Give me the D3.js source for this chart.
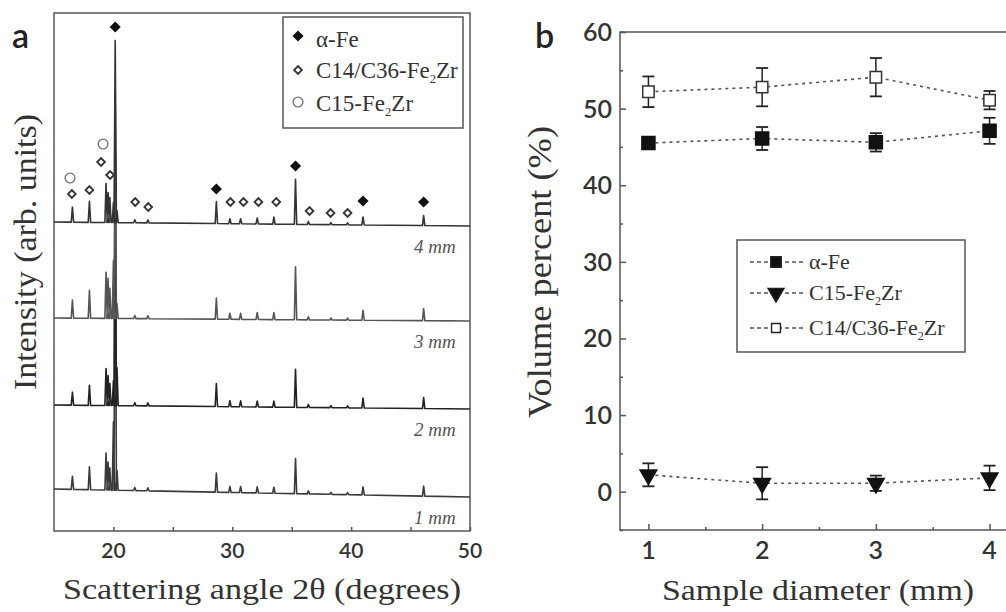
<!DOCTYPE html>
<html>
<head>
<meta charset="utf-8">
<script src="https://cdn.jsdelivr.net/npm/d3@7"></script>
<style>
  body { margin: 0; background: #fff; }
  svg { display: block; }
</style>
</head>
<body>
<script>
'use strict';

// ---- panel a: XRD patterns ----
// peak positions (2theta, degrees) shared by all samples
const peakAngles = [16.55, 17.98, 19.38, 19.55, 19.7, 20.0, 20.15, 20.3, 21.8, 22.9,
    28.66, 29.8, 30.7, 32.1, 33.5, 35.32, 36.4, 38.3, 39.7, 41.0, 46.1];
// peak heights above the baseline for each sample (arb. units)
const peaks4mm = [15, 21, 39, 30, 25, 20, 182, 12, 3, 3, 22, 5, 5, 6, 7, 45, 3, 2, 2, 8, 10];
const peaks3mm = [18, 28, 46, 40, 30, 58, 223, 15, 3, 3, 21, 6, 6, 7, 7, 53, 3, 2, 2, 10, 12];
const peaks2mm = [13, 20, 37, 30, 22, 25, 255, 38, 3, 3, 23, 6, 6, 6, 6, 38, 3, 2, 2, 10, 11];
const peaks1mm = [13, 23, 37, 28, 22, 68, 340, 20, 3, 3, 19, 6, 6, 6, 6, 35, 3, 2, 2, 8, 10];
// baseline level of each stacked pattern at the two ends of the scan
const base4mm = [[15, 309], [50, 305]];
const base3mm = [[15, 213], [50, 210]];
const base2mm = [[15, 126], [50, 122]];
const base1mm = [[15, 42], [50, 34]];
const sampleLabels = ["4 mm", "3 mm", "2 mm", "1 mm"];
const xTicksA = [20, 30, 40, 50];
const xMinorA = [25, 35, 45];

// phase markers [angle, intensity]
const markAlphaFe = [[20.15, 504], [28.66, 342], [35.32, 365], [41.0, 330], [46.1, 329]];
const markC14 = [[16.5, 337], [17.98, 341], [18.96, 369], [19.72, 356], [21.83, 329],
    [22.93, 324], [29.84, 329], [30.94, 329], [32.2, 329], [33.7, 329],
    [36.5, 320], [38.27, 318], [39.7, 318]];
const markC15 = [[16.35, 353], [19.13, 387]];

// ---- panel b: volume fractions ----
const diameters = [1, 2, 3, 4];
const alphaFe = [45.5, 46.1, 45.6, 47.1];
const alphaFeErr = [0.6, 1.5, 1.2, 1.7];
const c15 = [2.2, 1.1, 1.1, 1.8];
const c15Err = [1.5, 2.1, 1.0, 1.6];
const c14 = [52.2, 52.8, 54.1, 51.1];
const c14Err = [2.0, 2.5, 2.5, 1.2];
const yTicksB = [0, 10, 20, 30, 40, 50, 60];
const yMinorB = [-5, 5, 15, 25, 35, 45, 55];
const xMinorB = [1.5, 2.5, 3.5];

const serif = "'Liberation Serif', 'DejaVu Serif', serif";
const sans = "Lato, 'Open Sans', sans-serif";
const ink = "#333";
const frameColor = "#555";

const svg = d3.select("body").append("svg")
    .attr("width", 1006)
    .attr("height", 612);

// rotated squares for the diffraction phase markers
const fullDiamond = d3.symbol().type(d3.symbolSquare).size(62)();
const openDiamond = d3.symbol().type(d3.symbolSquare).size(30)();
const openCircle = d3.symbol().type(d3.symbolCircle).size(75)();

drawPanelA();
drawPanelB();

function drawPanelA() {
    const x = d3.scaleLinear().domain([15, 50]).range([54, 470]);
    const y = d3.scaleLinear().domain([0, 518]).range([531, 13]);
    const g = svg.append("g");

    // frame
    g.append("rect")
        .attr("x", x(15)).attr("y", y(518))
        .attr("width", x(50) - x(15)).attr("height", y(0) - y(518))
        .attr("fill", "none").attr("stroke", frameColor).attr("stroke-width", 1.5);

    // bottom ticks (inward)
    const axis = g.append("g")
        .attr("transform", "translate(0," + y(0) + ")")
        .call(d3.axisBottom(x).tickValues(xTicksA.concat(xMinorA)).tickSize(-4).tickFormat(""));
    axis.select(".domain").remove();
    axis.selectAll("line").attr("stroke", frameColor).attr("stroke-width", 1.5);

    g.selectAll(".xlabA")
        .data(xTicksA)
        .enter().append("text")
        .attr("x", d => x(d))
        .attr("y", 558)
        .attr("text-anchor", "middle")
        .attr("font-family", sans).attr("font-size", 21).attr("font-weight", 600)
        .attr("fill", ink)
        .text(d => d);

    // stacked patterns
    const traces = [
        { peaks: peaks1mm, base: base1mm, color: "#3a3a3a" },
        { peaks: peaks2mm, base: base2mm, color: "#222" },
        { peaks: peaks3mm, base: base3mm, color: "#555" },
        { peaks: peaks4mm, base: base4mm, color: "#333" }
    ];
    const line = d3.line().x(d => x(d[0])).y(d => y(d[1]));
    const w = 0.1;
    traces.forEach((t) => {
        const b = d3.scaleLinear().domain(t.base.map(d => d[0])).range(t.base.map(d => d[1]));
        const pts = [[15, b(15)]];
        peakAngles.forEach((a, i) => {
            pts.push([a - w, b(a - w)]);
            pts.push([a, b(a) + t.peaks[i]]);
            pts.push([a + w, b(a + w)]);
        });
        pts.push([50, b(50)]);
        g.append("path")
            .datum(pts)
            .attr("d", line)
            .attr("fill", "none")
            .attr("stroke", t.color)
            .attr("stroke-width", 1.6)
            .attr("stroke-linejoin", "round");
    });

    // sample labels
    const bases = [base4mm, base3mm, base2mm, base1mm];
    sampleLabels.forEach((s, i) => {
        g.append("text")
            .attr("x", x(48.8))
            .attr("y", y(bases[i][1][1]) + 27)
            .attr("text-anchor", "end")
            .attr("font-family", serif).attr("font-style", "italic").attr("font-size", 19)
            .attr("fill", "#555")
            .text(s);
    });

    // phase markers
    g.selectAll(".mFe")
        .data(markAlphaFe)
        .enter().append("path")
        .attr("transform", d => "translate(" + x(d[0]) + "," + y(d[1]) + ")rotate(45)")
        .attr("d", fullDiamond)
        .attr("fill", "#111");
    g.selectAll(".mC14")
        .data(markC14)
        .enter().append("path")
        .attr("transform", d => "translate(" + x(d[0]) + "," + y(d[1]) + ")rotate(45)")
        .attr("d", openDiamond)
        .attr("fill", "#fff").attr("stroke", "#333").attr("stroke-width", 1.8);
    g.selectAll(".mC15")
        .data(markC15)
        .enter().append("path")
        .attr("transform", d => "translate(" + x(d[0]) + "," + y(d[1]) + ")")
        .attr("d", openCircle)
        .attr("fill", "none").attr("stroke", "#777").attr("stroke-width", 1.4);

    // legend
    const lg = g.append("g");
    lg.append("rect")
        .attr("x", 283).attr("y", 17).attr("width", 180).attr("height", 111)
        .attr("fill", "#fff").attr("stroke", frameColor).attr("stroke-width", 1.5);
    lg.append("path").attr("transform", "translate(298,36)rotate(45)")
        .attr("d", fullDiamond).attr("fill", "#111");
    lg.append("path").attr("transform", "translate(298,70)rotate(45)")
        .attr("d", openDiamond)
        .attr("fill", "#fff").attr("stroke", "#333").attr("stroke-width", 1.8);
    lg.append("path").attr("transform", "translate(298,102)")
        .attr("d", openCircle)
        .attr("fill", "none").attr("stroke", "#777").attr("stroke-width", 1.4);
    legendText(lg, 316, 47, "α-Fe", null, 23);
    legendText(lg, 316, 78, "C14/C36-Fe", "Zr", 23);
    legendText(lg, 316, 111, "C15-Fe", "Zr", 23);

    // titles
    g.append("text")
        .attr("x", 262).attr("y", 599)
        .attr("text-anchor", "middle")
        .attr("textLength", 398).attr("lengthAdjust", "spacingAndGlyphs")
        .attr("font-family", serif).attr("font-size", 29)
        .attr("fill", ink)
        .text("Scattering angle  2θ (degrees)");
    g.append("text")
        .attr("transform", "translate(36,252)rotate(-90)")
        .attr("text-anchor", "middle")
        .attr("textLength", 276).attr("lengthAdjust", "spacingAndGlyphs")
        .attr("font-family", serif).attr("font-size", 32)
        .attr("fill", ink)
        .text("Intensity (arb. units)");
    g.append("text")
        .attr("x", 12).attr("y", 48)
        .attr("font-family", sans).attr("font-size", 34).attr("font-weight", 600)
        .attr("fill", "#222")
        .text("a");
}

function drawPanelB() {
    const x = d3.scaleLinear().domain([0.75, 4.25]).range([620, 1018]);
    const y = d3.scaleLinear().domain([-5, 60]).range([530, 32]);
    const g = svg.append("g");

    g.append("rect")
        .attr("x", x(0.75)).attr("y", y(60))
        .attr("width", x(4.25) - x(0.75)).attr("height", y(-5) - y(60))
        .attr("fill", "none").attr("stroke", frameColor).attr("stroke-width", 1.5);

    // left axis ticks, inward
    const ya = g.append("g").attr("transform", "translate(" + x(0.75) + ",0)")
        .call(d3.axisLeft(y).tickValues(yTicksB).tickSize(-6).tickFormat(""));
    ya.select(".domain").remove();
    const ym = g.append("g").attr("transform", "translate(" + x(0.75) + ",0)")
        .call(d3.axisLeft(y).tickValues(yMinorB).tickSize(-3).tickFormat(""));
    ym.select(".domain").remove();
    const xa = g.append("g").attr("transform", "translate(0," + y(-5) + ")")
        .call(d3.axisBottom(x).tickValues(diameters).tickSize(-6).tickFormat(""));
    xa.select(".domain").remove();
    const xm = g.append("g").attr("transform", "translate(0," + y(-5) + ")")
        .call(d3.axisBottom(x).tickValues(xMinorB).tickSize(-3).tickFormat(""));
    xm.select(".domain").remove();
    g.selectAll(".tick line").attr("stroke", frameColor).attr("stroke-width", 1.5);

    g.selectAll(".ylabB")
        .data(yTicksB)
        .enter().append("text")
        .attr("x", 612)
        .attr("y", d => y(d) + 9)
        .attr("text-anchor", "end")
        .attr("font-family", sans).attr("font-size", 25).attr("font-weight", 600)
        .attr("fill", ink)
        .text(d => d);
    g.selectAll(".xlabB")
        .data(diameters)
        .enter().append("text")
        .attr("x", d => x(d))
        .attr("y", 559)
        .attr("text-anchor", "middle")
        .attr("font-family", sans).attr("font-size", 25).attr("font-weight", 600)
        .attr("fill", ink)
        .text(d => d);

    const series = [
        { vals: c14, err: c14Err, symbol: d3.symbolSquare, size: 130, fill: "#fff", stroke: "#333" },
        { vals: alphaFe, err: alphaFeErr, symbol: d3.symbolSquare, size: 170, fill: "#111", stroke: "#111" },
        { vals: c15, err: c15Err, symbol: d3.symbolTriangle, size: 120, fill: "#111", stroke: "#111" }
    ];
    const line = d3.line().x(d => x(d[0])).y(d => y(d[1]));
    series.forEach((s) => {
        const pts = diameters.map((d, i) => [d, s.vals[i]]);
        g.append("path")
            .datum(pts)
            .attr("d", line)
            .attr("fill", "none")
            .attr("stroke", "#555")
            .attr("stroke-width", 1.6)
            .attr("stroke-dasharray", "3,4");
        // error bars
        diameters.forEach((d, i) => {
            const cx = x(d);
            const top = y(s.vals[i] + s.err[i]);
            const bot = y(s.vals[i] - s.err[i]);
            g.append("line").attr("x1", cx).attr("x2", cx).attr("y1", top).attr("y2", bot)
                .attr("stroke", "#222").attr("stroke-width", 1.5);
            [top, bot].forEach((yy) => {
                g.append("line").attr("x1", cx - 6).attr("x2", cx + 6).attr("y1", yy).attr("y2", yy)
                    .attr("stroke", "#222").attr("stroke-width", 1.8);
            });
        });
        const rot = s.symbol === d3.symbolTriangle ? "rotate(180)" : "";
        g.selectAll(null)
            .data(pts)
            .enter().append("path")
            .attr("transform", d => "translate(" + x(d[0]) + "," + y(d[1]) + ")" + rot)
            .attr("d", d3.symbol().type(s.symbol).size(s.size)())
            .attr("fill", s.fill)
            .attr("stroke", s.stroke)
            .attr("stroke-width", 1.5);
    });

    // legend
    const lg = g.append("g");
    lg.append("rect")
        .attr("x", 737).attr("y", 240).attr("width", 228).attr("height", 112)
        .attr("fill", "#fff").attr("stroke", frameColor).attr("stroke-width", 1.5);
    const rows = [
        { y: 262, symbol: d3.symbolSquare, size: 110, fill: "#111", rot: "", label: "α-Fe", sub: null },
        { y: 293, symbol: d3.symbolTriangle, size: 110, fill: "#111", rot: "rotate(180)", label: "C15-Fe", sub: "Zr" },
        { y: 328, symbol: d3.symbolSquare, size: 80, fill: "#fff", rot: "", label: "C14/C36-Fe", sub: "Zr" }
    ];
    rows.forEach((r) => {
        lg.append("line").attr("x1", 750).attr("x2", 805).attr("y1", r.y).attr("y2", r.y)
            .attr("stroke", "#555").attr("stroke-width", 1.6).attr("stroke-dasharray", "4,3");
        lg.append("path")
            .attr("transform", "translate(776," + r.y + ")" + r.rot)
            .attr("d", d3.symbol().type(r.symbol).size(r.size)())
            .attr("fill", r.fill).attr("stroke", "#222").attr("stroke-width", 1.4);
        legendText(lg, 809, r.y + 7, r.label, r.sub, 22);
    });

    // titles
    g.append("text")
        .attr("x", 818).attr("y", 600)
        .attr("text-anchor", "middle")
        .attr("textLength", 312).attr("lengthAdjust", "spacingAndGlyphs")
        .attr("font-family", serif).attr("font-size", 29)
        .attr("fill", ink)
        .text("Sample diameter (mm)");
    g.append("text")
        .attr("transform", "translate(551,272)rotate(-90)")
        .attr("text-anchor", "middle")
        .attr("textLength", 292).attr("lengthAdjust", "spacingAndGlyphs")
        .attr("font-family", serif).attr("font-size", 33)
        .attr("fill", ink)
        .text("Volume percent (%)");
    g.append("text")
        .attr("x", 535).attr("y", 48)
        .attr("font-family", sans).attr("font-size", 34).attr("font-weight", 600)
        .attr("fill", "#222")
        .text("b");
}

// legend label with a subscript 2 before the trailing "Zr"
function legendText(parent, x, y, main, tail, size) {
    const t = parent.append("text")
        .attr("x", x).attr("y", y)
        .attr("font-family", serif).attr("font-size", size)
        .attr("fill", ink);
    t.append("tspan").text(main);
    if (tail) {
        t.append("tspan").attr("dy", 5).attr("font-size", size * 0.55).text("2");
        t.append("tspan").attr("dy", -5).text(tail);
    }
}
</script>
</body>
</html>
